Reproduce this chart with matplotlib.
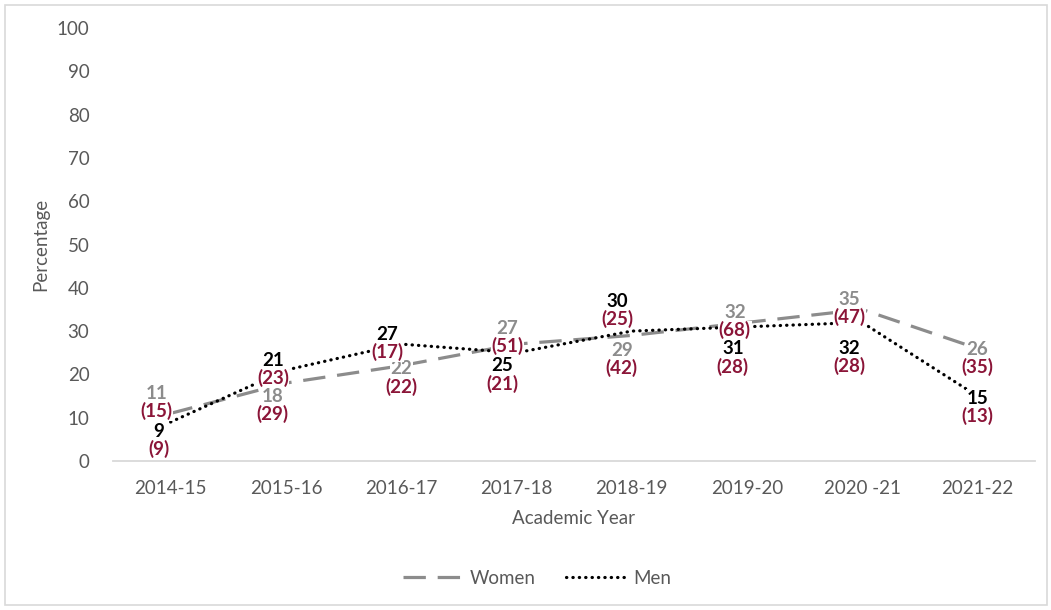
import matplotlib
matplotlib.use("Agg")
import matplotlib.pyplot as plt
from matplotlib.patches import Rectangle

plt.rcParams['font.family'] = ['Lato', 'DejaVu Sans']

years = ["2014-15", "2015-16", "2016-17", "2017-18", "2018-19", "2019-20", "2020 -21", "2021-22"]
women_pct = [11, 18, 22, 27, 29, 32, 35, 26]
women_n = [15, 29, 22, 51, 42, 68, 47, 35]
men_pct = [9, 21, 27, 25, 30, 31, 32, 15]
men_n = [9, 23, 17, 21, 25, 28, 28, 13]

# label placement offsets in pixels (dx, dy), dy positive = up
women_off = [(-14, 11), (-13, -22), (0, -12), (-9, 7), (-10, -24), (-12, 1), (-13, 1), (0, -10)]
men_off = [(-12, -18), (-13, 1), (-14, 1), (-14, -22), (-14, 21), (-14, -31), (-13, -35), (0, -11)]

GRAY_TXT = "#595959"
WOMEN_C = "#8c8c8c"
COUNT_C = "#8b1538"

fig = plt.figure(figsize=(10.51, 6.10), dpi=100)
W, H = 1051, 610
ax = fig.add_axes([113 / W, 1 - 461 / H, (1035 - 113) / W, (461 - 28) / H])

x = list(range(len(years)))
ax.plot(x, women_pct, color=WOMEN_C, lw=2.3, dashes=(7, 3.7), label="Women", zorder=2)
ax.plot(x, men_pct, color="black", lw=2.3, linestyle=(0, (0.1, 1.9)),
        dash_capstyle="round", label="Men", zorder=2)

def add_labels(vals, counts, offs, color):
    for i, (v, n, (dx, dy)) in enumerate(zip(vals, counts, offs)):
        box = dict(facecolor="white", edgecolor="none", pad=0.4)
        ax.annotate(str(v), (i, v), xytext=(dx, dy + 9), textcoords="offset pixels",
                    ha="center", va="center", fontsize=13.5, fontweight="bold",
                    color=color, bbox=box, zorder=5)
        ax.annotate("(%d)" % n, (i, v), xytext=(dx, dy - 9), textcoords="offset pixels",
                    ha="center", va="center", fontsize=13.5, fontweight="bold",
                    color=COUNT_C, bbox=box, zorder=5)

add_labels(women_pct, women_n, women_off, WOMEN_C)
add_labels(men_pct, men_n, men_off, "black")

ax.set_xlim(-0.5, len(years) - 0.5)
ax.set_ylim(0, 100)
ax.set_yticks(range(0, 101, 10))
ax.set_xticks(x)
ax.set_xticklabels(years)
for s in ["top", "right", "left"]:
    ax.spines[s].set_visible(False)
ax.spines["bottom"].set_color("#d9d9d9")
ax.spines["bottom"].set_linewidth(1.3)
ax.tick_params(axis="both", length=0, labelsize=13.5, colors=GRAY_TXT)
ax.tick_params(axis="y", pad=17)
ax.tick_params(axis="x", pad=14)

ax.set_ylabel("Percentage", fontsize=13.5, color=GRAY_TXT, labelpad=5)
ax.set_xlabel("Academic Year", fontsize=13.5, color=GRAY_TXT, labelpad=9)

leg = fig.legend(loc="center", bbox_to_anchor=(537 / W, 1 - 578 / H), ncol=2,
                 frameon=False, fontsize=13.5, handlelength=3.2, columnspacing=1.6,
                 handletextpad=0.4)
for t in leg.get_texts():
    t.set_color(GRAY_TXT)

# thin frame round the whole chart
fig.patches.append(Rectangle((5 / W, 5 / H), 1042 / W, 600 / H, transform=fig.transFigure,
                             fill=False, edgecolor="#d9d9d9", lw=1.2))

fig.savefig("out.png", dpi=100)
